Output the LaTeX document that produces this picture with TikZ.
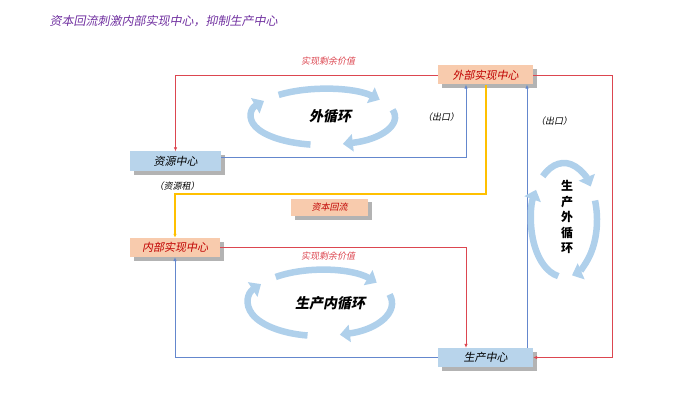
\documentclass[tikz,border=0pt]{standalone}
\usepackage{fontspec}
\setmainfont{Noto Sans CJK SC}[FakeSlant=0.2]
\newfontfamily\uprightcjk{Noto Sans CJK SC}
\usetikzlibrary{arrows.meta,shadows}

\definecolor{titlepurple}{RGB}{112,48,160}
\definecolor{peachfill}{RGB}{248,203,173}
\definecolor{boxred}{RGB}{192,0,0}
\definecolor{centerblue}{RGB}{184,212,235}
\definecolor{surplusred}{RGB}{220,70,80}
\definecolor{exportblue}{RGB}{100,135,205}
\definecolor{capyellow}{RGB}{255,192,0}
\definecolor{cycblue}{RGB}{175,208,235}

\begin{document}
\begin{tikzpicture}[
    x=1pt, y=-1pt,
    unit/.style={minimum width=95pt, minimum height=19pt, inner sep=0pt,
        font=\fontsize{11}{11}\selectfont,
        drop shadow={shadow xshift=3.5pt, shadow yshift=-3.5pt, fill=black!50, opacity=.6}},
    realize/.style={unit, fill=peachfill, text=boxred},
    plainunit/.style={unit, fill=centerblue, text=black},
    flow/.style={-{Latex[length=4pt,width=3.5pt]}, line width=.7pt},
    surplus/.style={flow, draw=surplusred},
    export/.style={flow, draw=exportblue},
    capital/.style={flow, draw=capyellow, line width=2pt},
    note/.style={font=\fontsize{9}{9}\selectfont},
    roundarrow/.style={draw=cycblue, line width=6.5pt, -{Triangle[length=10pt,width=17pt]}},
    cyclelabel/.style={font=\bfseries\fontsize{14}{14}\selectfont},
]
\useasboundingbox (0,0) rectangle (700,403);

% Title
\node[anchor=west, text=titlepurple, font=\fontsize{12}{12}\selectfont] (title) at (46,21) {资本回流刺激内部实现中心，抑制生产中心};

% Nodes
\node[realize] (ext) at (485.5,75) {外部实现中心};
\node[plainunit, minimum width=91pt, minimum height=20pt] (res) at (175.5,161.5) {资源中心};
\node[realize, minimum width=90pt] (int) at (175,247.5) {内部实现中心};
\node[realize, minimum width=77pt, minimum height=17pt, font=\fontsize{9}{9}\selectfont] (cap) at (329.5,207.5) {资本回流};
\node[plainunit] (prod) at (485.5,357.5) {生产中心};

% Labels
\node[note, text=surplusred] (sv1) at (328,61) {实现剩余价值};
\node[note, text=surplusred] (sv2) at (328,256) {实现剩余价值};
\node[note] (out1) at (441,117) {（出口）};
\node[note] (out2) at (554,121) {（出口）};
\node[note] (rent) at (177,186) {（资源租）};

% Edges
\coordinate (ne) at (612,75);
\draw[surplus] (ext.west) -| (res.north);
\draw[surplus] (ext.east) -- (ne) |- (prod.east);
\draw[export] ([yshift=4pt]res.east) -| ([xshift=-19.5pt]ext.south);
\draw[export] ([xshift=41.5pt]prod.north) -- ([xshift=41.5pt]ext.south);
\draw[capital] (ext.south) -- ++(0,109.5) -| (int.north);
\draw[surplus] (int.east) -| ([xshift=-19.5pt]prod.north);
\draw[export] (prod.west) -| (int.south);

% Outer cycle
\coordinate (oc) at (323,117);
\draw[roundarrow] ([shift={(-128:72 and 28)}]oc) arc[start angle=-128, end angle=-38, x radius=72, y radius=28];
\draw[roundarrow] ([shift={(-15:72 and 28)}]oc) arc[start angle=-15, end angle=74, x radius=72, y radius=28];
\draw[roundarrow] ([shift={(100:72 and 28)}]oc) arc[start angle=100, end angle=215, x radius=72, y radius=28];
\node[cyclelabel] (outer) at (330,116) {外循环};

% Inner production cycle
\coordinate (ic) at (320,303);
\draw[roundarrow] ([shift={(-128:72 and 33)}]ic) arc[start angle=-128, end angle=-38, x radius=72, y radius=33];
\draw[roundarrow] ([shift={(-15:72 and 33)}]ic) arc[start angle=-15, end angle=74, x radius=72, y radius=33];
\draw[roundarrow] ([shift={(100:72 and 33)}]ic) arc[start angle=100, end angle=215, x radius=72, y radius=33];
\node[cyclelabel] (inner) at (330,303) {生产内循环};

% Outer production cycle
\coordinate (pc) at (564,220);
\draw[roundarrow] ([shift={(-130:33 and 57)}]pc) arc[start angle=-130, end angle=-36, x radius=33, y radius=57];
\draw[roundarrow] ([shift={(-20:33 and 57)}]pc) arc[start angle=-20, end angle=76, x radius=33, y radius=57];
\draw[roundarrow] ([shift={(100:33 and 57)}]pc) arc[start angle=100, end angle=212, x radius=33, y radius=57];
\node[align=center, font=\uprightcjk\bfseries\fontsize{12}{15.5}\selectfont] (prodouter) at (567,217) {生\\产\\外\\循\\环};

\end{tikzpicture}
\end{document}
